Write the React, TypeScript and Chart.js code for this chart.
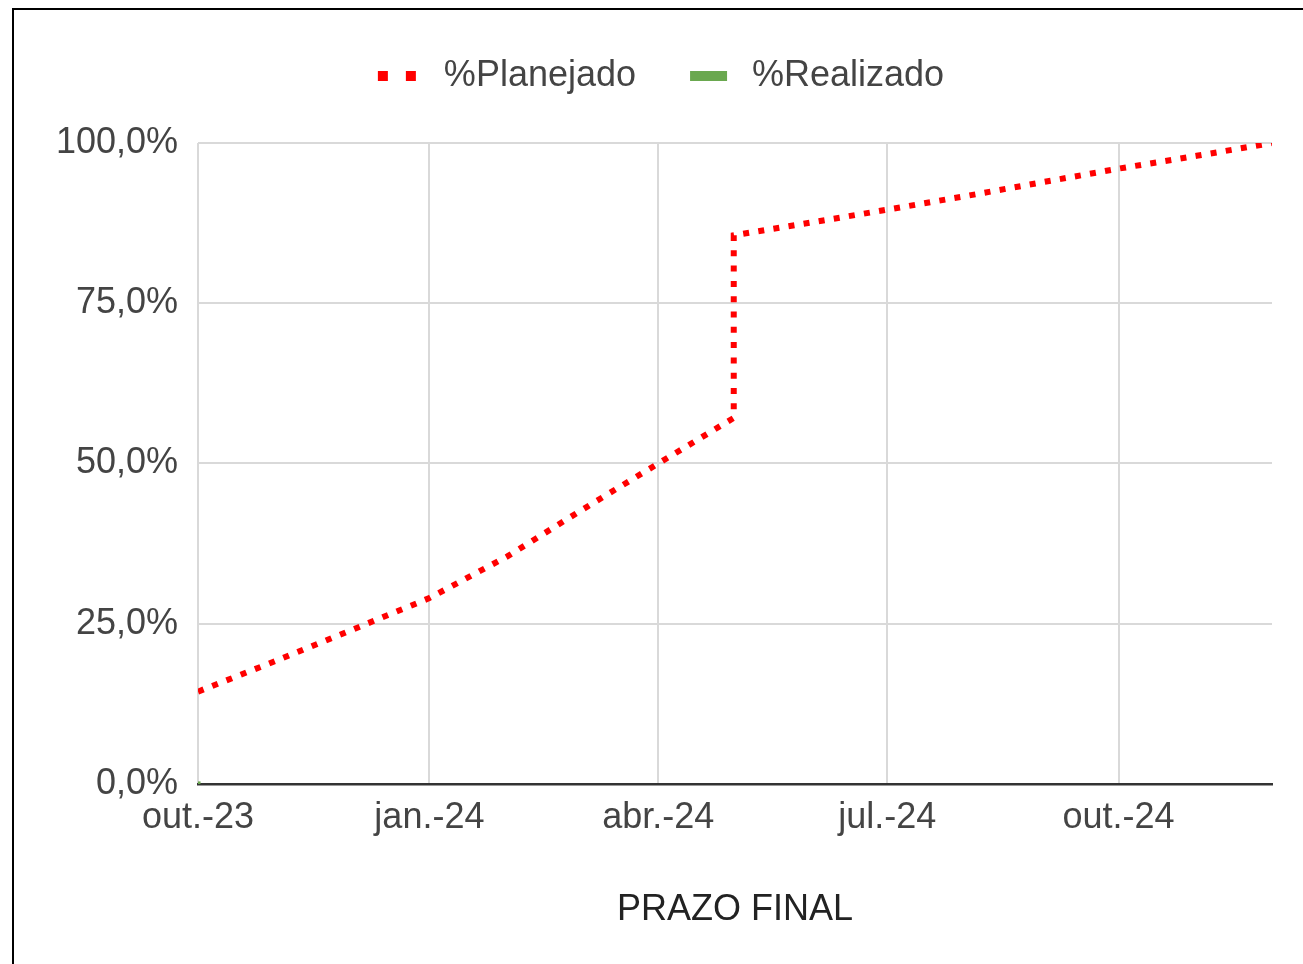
import React, { useEffect, useRef } from 'react';
import { Chart, registerables } from 'chart.js';

Chart.register(...registerables);

// ---- data ----
const planDates = [
  '2023-10-01', '2023-11-01', '2023-12-01', '2024-01-01', '2024-02-01', '2024-03-01',
  '2024-04-01', '2024-05-01', '2024-05-01', '2024-06-01', '2024-07-01', '2024-08-01',
  '2024-09-01', '2024-10-01', '2024-11-01', '2024-12-01',
];
const planValues = [14.4, 19.2, 24.0, 29.0, 35.5, 42.6, 50.0, 57.1, 85.6, 87.6, 89.6, 91.7, 93.9, 96.0, 98.0, 100.0];
const realDates = ['2023-10-01', '2023-10-02'];
const realValues = [0, 0];
const tickDates = ['2023-10-01', '2024-01-01', '2024-04-01', '2024-07-01', '2024-10-01'];
const tickLabels = ['out.-23', 'jan.-24', 'abr.-24', 'jul.-24', 'out.-24'];
const axisStart = '2023-10-01';
const axisEnd = '2024-12-01';
const yMin = 0;
const yMax = 100;
const yStep = 25;
const seriesNames = ['%Planejado', '%Realizado'];
const axisTitle = 'PRAZO FINAL';

const dayIndex = (s: string) => (Date.parse(s) - Date.parse(axisStart)) / 86400000;

const FONT = 'Liberation Sans, Arial, sans-serif';
const RED = '#ff0000';
const GREEN = '#6aa84f';

function makeIcon(draw: (g: CanvasRenderingContext2D) => void) {
  const c = document.createElement('canvas');
  c.width = 60;
  c.height = 12;
  const g = c.getContext('2d')!;
  draw(g);
  return c;
}

export default function App() {
  const ref = useRef<HTMLCanvasElement | null>(null);

  useEffect(() => {
    if (!ref.current) return;
    const redIcon = makeIcon((g) => {
      g.fillStyle = RED;
      g.fillRect(2, 1, 10, 10);
      g.fillRect(30, 1, 10, 10);
    });
    const greenIcon = makeIcon((g) => {
      g.fillStyle = GREEN;
      g.fillRect(6, 1, 37, 10);
    });
    const tickDays = tickDates.map(dayIndex);

    const chart = new Chart(ref.current, {
      type: 'line',
      data: {
        datasets: [
          {
            label: seriesNames[0],
            data: planDates.map((d, i) => ({ x: dayIndex(d), y: planValues[i] })),
            borderColor: RED,
            backgroundColor: RED,
            borderWidth: 6,
            borderDash: [6, 9.3],
            borderCapStyle: 'butt',
            pointRadius: 0,
            tension: 0,
            fill: false,
          },
          {
            label: seriesNames[1],
            data: realDates.map((d, i) => ({ x: dayIndex(d), y: realValues[i] })),
            borderColor: GREEN,
            backgroundColor: GREEN,
            borderWidth: 5,
            pointRadius: 0,
            tension: 0,
            fill: false,
          },
        ],
      },
      options: {
        responsive: false,
        animation: false,
        events: [],
        layout: { padding: { left: 44, right: 44, top: 0, bottom: 0 } },
        plugins: {
          tooltip: { enabled: false },
          title: {
            display: true,
            text: '',
            position: 'top',
            weight: 500,
            font: { size: 1, lineHeight: 1 },
            padding: { top: 0, bottom: 38 },
          },
          legend: {
            display: true,
            position: 'top',
            labels: {
              usePointStyle: true,
              pointStyleWidth: 40,
              padding: 58,
              color: '#444',
              font: { family: FONT, size: 36 },
              generateLabels: () => [
                {
                  text: seriesNames[0],
                  pointStyle: redIcon as any,
                  fillStyle: 'transparent',
                  strokeStyle: 'transparent',
                  lineWidth: 0,
                  hidden: false,
                  datasetIndex: 0,
                  fontColor: '#444',
                } as any,
                {
                  text: seriesNames[1],
                  pointStyle: greenIcon as any,
                  fillStyle: 'transparent',
                  strokeStyle: 'transparent',
                  lineWidth: 0,
                  hidden: false,
                  datasetIndex: 1,
                  fontColor: '#444',
                } as any,
              ],
            },
          },
        },
        scales: {
          x: {
            type: 'linear',
            min: 0,
            max: dayIndex(axisEnd),
            afterBuildTicks: (s: any) => {
              s.ticks = tickDays.map((v) => ({ value: v }));
            },
            ticks: {
              autoSkip: false,
              maxRotation: 0,
              padding: 13,
              color: '#444',
              font: { family: FONT, size: 36 },
              callback: (_v: any, i: number) => tickLabels[i] ?? '',
            },
            grid: { color: '#d9d9d9', lineWidth: 2, drawTicks: false },
            border: { display: true, color: '#333', width: 2.5 },
            title: {
              display: true,
              text: axisTitle,
              color: '#222',
              font: { family: FONT, size: 36 },
              padding: { top: 35.7, bottom: 0 },
            },
          },
          y: {
            type: 'linear',
            min: yMin,
            max: yMax,
            afterFit: (s: any) => {
              s.width = 140;
            },
            ticks: {
              stepSize: yStep,
              padding: 20,
              color: '#444',
              font: { family: FONT, size: 36 },
              callback: (v: any) => Number(v).toFixed(1).replace('.', ',') + '%',
            },
            grid: { color: '#d9d9d9', lineWidth: 2, drawTicks: false },
            border: { display: false },
          },
        },
      } as any,
    });
    return () => chart.destroy();
  }, []);

  return (
    <div style={{ position: 'fixed', inset: 0, overflow: 'hidden', background: '#fff' }}>
      <canvas
        ref={ref}
        width={1302}
        height={932}
        style={{ position: 'absolute', left: 14, top: 0, width: 1302, height: 932, display: 'block' }}
      />
      <div
        style={{
          position: 'absolute',
          left: 12,
          top: 8,
          width: 2000,
          height: 2000,
          borderLeft: '2px solid #000',
          borderTop: '2px solid #000',
          pointerEvents: 'none',
        }}
      />
    </div>
  );
}
